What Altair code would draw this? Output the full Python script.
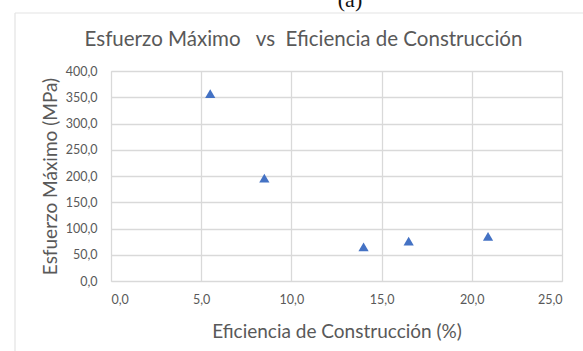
import altair as alt
import pandas as pd

eficiencia = [5.5, 8.5, 14.0, 16.5, 20.9]
esfuerzo = [357.0, 196.0, 65.0, 76.0, 85.0]
x_ticks = [0, 5, 10, 15, 20, 25]
y_ticks = [0, 50, 100, 150, 200, 250, 300, 350, 400]
titulo = "Esfuerzo Máximo\u00a0\u00a0\u00a0vs\u00a0\u00a0Eficiencia de Construcción"

df = pd.DataFrame({"ef": eficiencia, "es": esfuerzo})

FONT = "Lato"
GRAY = "#595959"
GRID = "#d9d9d9"

base = alt.Chart(df)

points = base.mark_point(shape="triangle-up", filled=True, size=105, color="#4472C4", opacity=1).encode(
    x=alt.X("ef:Q", scale=alt.Scale(domain=[0, 25], nice=False),
            axis=alt.Axis(values=x_ticks, labelExpr="replace(format(datum.value, '.1f'), '.', ',')",
                          title="Eficiencia de Construcción (%)", titleFontSize=19, titleFontWeight="normal",
                          titleColor=GRAY, titleX=225.5, titleY=56, titleBaseline="alphabetic",
                          labelFontSize=12.5, labelColor=GRAY, labelPadding=12, labelBaseline="top",
                          tickSize=0, domain=False, grid=True, gridColor=GRID, gridWidth=1.3, labelFont=FONT, titleFont=FONT)),
    y=alt.Y("es:Q", scale=alt.Scale(domain=[0, 400], nice=False),
            axis=alt.Axis(values=y_ticks, labelExpr="replace(format(datum.value, '.1f'), '.', ',')",
                          title="Esfuerzo Máximo (MPa)", titleFontSize=19, titleFontWeight="normal",
                          titleColor=GRAY, titleX=-61, titleY=105, titleAngle=-90, titleAlign="center",
                          titleBaseline="middle",
                          labelFontSize=12.5, labelColor=GRAY, labelPadding=14,
                          tickSize=0, domain=False, grid=True, gridColor=GRID, gridWidth=1.3, labelFont=FONT, titleFont=FONT)),
)

frame = alt.Chart(pd.DataFrame({"k": [0]}))
border_v = frame.mark_rule(color="#e3e3e3", strokeWidth=1.2).encode(
    x=alt.value(-96), y=alt.value(-58), y2=alt.value(290))
border_h = frame.mark_rule(color="#e3e3e3", strokeWidth=1.2).encode(
    x=alt.value(-96), x2=alt.value(480), y=alt.value(-58))
label_a = frame.mark_text(text="(a)", font="Liberation Serif", fontSize=22, color="#111111",
                          baseline="alphabetic", align="center").encode(
    x=alt.value(239), y=alt.value(-64))
title_txt = frame.mark_text(text=titulo, font=FONT, fontSize=20.5, color=GRAY,
                            baseline="alphabetic", align="center").encode(
    x=alt.value(192.5), y=alt.value(-25))

chart = alt.layer(border_v, border_h, label_a, title_txt, points).properties(
    width=451, height=210,
    autosize=alt.AutoSizeParams(type="none"),
    padding={"left": 111, "top": 71, "right": 21, "bottom": 70},
).configure_view(stroke=None).configure(background="white")

chart.save("out.html", embed_options={"renderer": "svg", "actions": False})
